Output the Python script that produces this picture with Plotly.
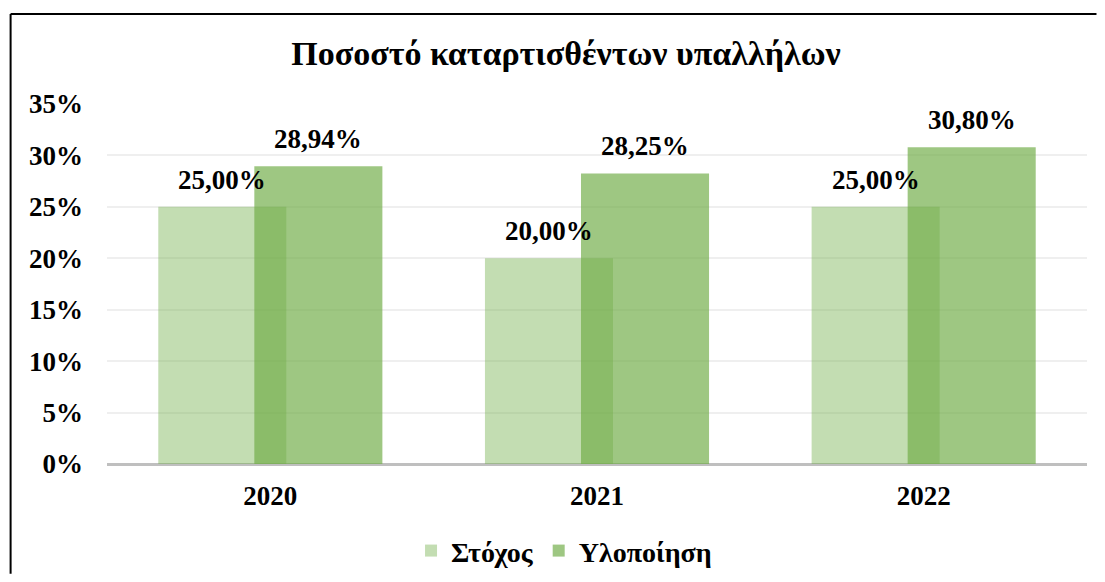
import plotly.graph_objects as go

categories = ["2020", "2021", "2022"]
target = [0.25, 0.20, 0.25]
achieved = [0.2894, 0.2825, 0.3080]
target_labels = ["25,00%", "20,00%", "25,00%"]
achieved_labels = ["28,94%", "28,25%", "30,80%"]
y_ticks = [0, 0.05, 0.10, 0.15, 0.20, 0.25, 0.30, 0.35]
y_tick_text = ["0%", "5%", "10%", "15%", "20%", "25%", "30%", "35%"]

FONT = "Liberation Serif"
W = 0.392
OFF_T = -0.343
OFF_A = -0.049

FW, FH = 1089, 566
L, R, T, B = 98.5, 9.5, 95.5, 110
PW = FW - L - R
PH = FH - T - B

fig = go.Figure()
fig.add_trace(go.Bar(
    x=categories, y=target, name="Στόχος",
    width=W, offset=OFF_T,
    marker=dict(color="rgba(112,173,71,0.42)", line=dict(width=0)),
))
fig.add_trace(go.Bar(
    x=categories, y=achieved, name="Υλοποίηση",
    width=W, offset=OFF_A,
    marker=dict(color="rgba(112,173,71,0.68)", line=dict(width=0)),
))

lab_font = dict(family=FONT, size=27, color="black")
annotations = []
for i, (v, t) in enumerate(zip(target, target_labels)):
    annotations.append(dict(x=i + OFF_T + W / 2, y=v, xref="x", yref="y", text="<b>" + t + "</b>",
                            showarrow=False, yanchor="middle", yshift=27, font=lab_font))
for i, (v, t) in enumerate(zip(achieved, achieved_labels)):
    annotations.append(dict(x=i + OFF_A + W / 2, y=v, xref="x", yref="y", text="<b>" + t + "</b>",
                            showarrow=False, yanchor="middle", yshift=27, font=lab_font))

fig.update_layout(
    width=FW, height=FH,
    margin=dict(l=L, r=R, t=T, b=B, autoexpand=False),
    paper_bgcolor="white", plot_bgcolor="white",
    barmode="overlay",
    font=dict(family=FONT, size=27, color="black"),
    title=dict(text="<b>Ποσοστό καταρτισθέντων υπαλλήλων</b>",
               xref="container", x=558 / FW, xanchor="center",
               yref="container", y=1 - 45 / FH, yanchor="middle",
               font=dict(family=FONT, size=34, color="black")),
    legend=dict(orientation="h", xref="paper", x=(556 - L) / PW, xanchor="center",
                yref="paper", y=(FH - B - 543) / PH, yanchor="middle",
                font=dict(family=FONT, size=28, color="black", weight="bold"),
                itemwidth=30, traceorder="normal"),
    annotations=annotations,
    showlegend=True,
)
fig.update_xaxes(showgrid=False, showline=False, ticks="",
                 tickfont=dict(family=FONT, size=27, color="black", weight="bold"),
                 ticklabelstandoff=13)
fig.update_yaxes(range=[0, 0.35], tickvals=y_ticks, ticktext=y_tick_text,
                 showgrid=True, gridcolor="#efefef", gridwidth=1.5,
                 zeroline=True, zerolinecolor="#bfbfbf", zerolinewidth=2.5,
                 showline=False, ticks="",
                 tickfont=dict(family=FONT, size=27, color="black", weight="bold"),
                 ticklabelstandoff=23)

# chart-area border (top and left edges visible)
top_y = (FH - B - 5.5) / PH
left_x = (2 - L) / PW
right_x = (FW - L) / PW
fig.add_shape(type="line", xref="paper", yref="paper", x0=left_x, x1=right_x, y0=top_y, y1=top_y,
              line=dict(color="black", width=2))
fig.add_shape(type="line", xref="paper", yref="paper", x0=left_x, x1=left_x, y0=top_y, y1=-B / PH,
              line=dict(color="black", width=2))

fig.write_html("out.html")
